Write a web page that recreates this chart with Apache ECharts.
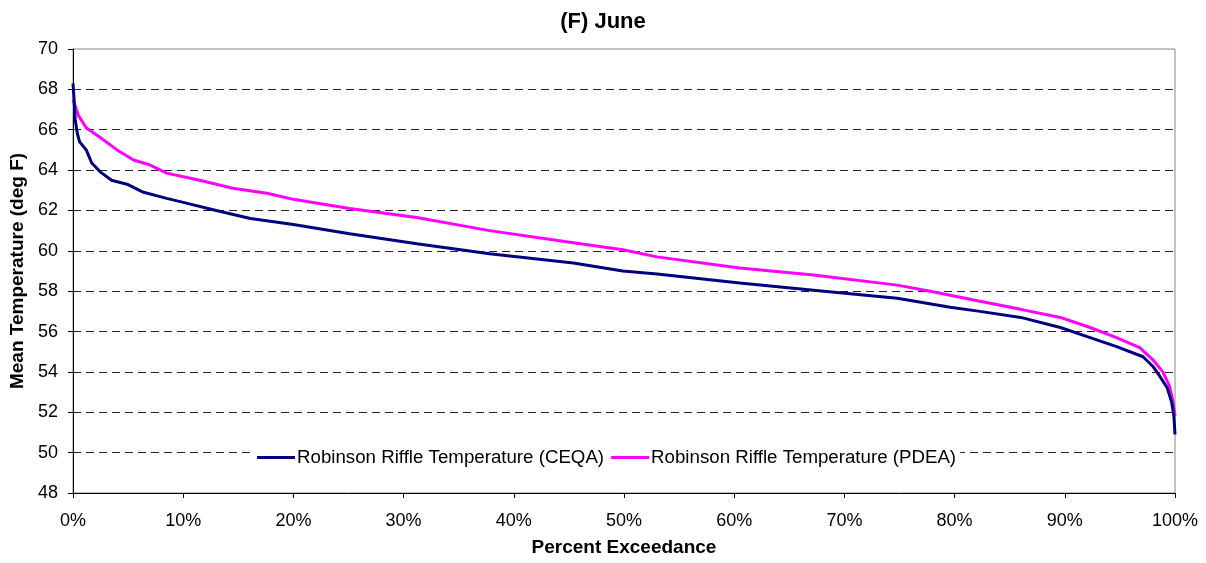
<!DOCTYPE html>
<html><head><meta charset="utf-8">
<script src="https://cdn.jsdelivr.net/npm/echarts@6/dist/echarts.min.js"></script>
<style>html,body{margin:0;padding:0;background:#fff}#c{width:1206px;height:563px}</style>
</head><body><div id="c"></div>
<script>
const titleText = '(F) June';
const xAxisName = 'Percent Exceedance';
const yAxisName = 'Mean Temperature (deg F)';
const seriesNames = ['Robinson Riffle Temperature (CEQA)', 'Robinson Riffle Temperature (PDEA)'];
const ceqaX = [0,0.1,0.2,0.4,0.6,1.2,1.7,2.5,3.5,4.9,6.4,8.5,10,13,16.1,20,25.1,31.2,37.8,45.4,49.9,53,60.5,67.2,74.8,79.6,82.3,86,89.6,92.3,94.7,97.1,98,98.6,99.3,99.7,99.9,100];
const ceqaY = [68.3,67.5,66.5,65.8,65.4,65.0,64.35,63.9,63.5,63.3,62.9,62.6,62.4,62.0,61.6,61.3,60.85,60.35,59.85,59.4,59.0,58.85,58.4,58.05,57.65,57.2,57.0,56.7,56.2,55.7,55.25,54.75,54.27,53.8,53.2,52.5,51.8,50.9];
const pdeaX = [0,0.5,1.2,2.5,4,5.5,7,8.5,11.5,14.5,17.6,20,25.1,31.2,37.8,45.4,49.9,53,60.5,67.2,74.8,77.8,82.3,86,89.6,92.3,94.7,96.8,98,98.9,99.5,99.8,100];
const pdeaY = [67.5,66.7,66.1,65.6,65.0,64.5,64.25,63.85,63.5,63.1,62.85,62.55,62.1,61.65,61.0,60.4,60.05,59.7,59.15,58.8,58.3,58.0,57.5,57.1,56.7,56.2,55.7,55.2,54.6,54.0,53.3,52.6,51.8];
const colors = ['#000080', '#ff00ff'];

const zip = (a, b) => a.map((v, i) => [v, b[i]]);
const font = 'Liberation Sans, Arial, sans-serif';
const chart = echarts.init(document.getElementById('c'), null, {renderer: 'canvas'});
const gridColors = ['transparent','#222','#222','#222','#222','#222','#222','#222','#222','#222','#222','transparent'];
chart.setOption({
  animation: false,
  backgroundColor: '#fff',
  title: {text: titleText, left: 'center', top: 11, padding: 0,
    textStyle: {fontFamily: font, fontSize: 22, fontWeight: 'bold', color: '#000'}},
  grid: {left: 73, right: 31, top: 49, bottom: 70, show: true, borderColor: '#888', borderWidth: 1, backgroundColor: '#fff'},
  legend: {
    data: seriesNames, left: 253, top: 445, orient: 'horizontal',
    backgroundColor: '#fff', padding: [3, 4], itemGap: 7,
    icon: 'rect', itemWidth: 38, itemHeight: 3,
    textStyle: {fontFamily: font, fontSize: 18.7, color: '#000', padding: [0, 0, 0, -3]}
  },
  xAxis: {
    type: 'value', min: 0, max: 100, interval: 10,
    name: xAxisName, nameLocation: 'middle', nameGap: 45,
    nameTextStyle: {fontFamily: font, fontSize: 19, fontWeight: 'bold', color: '#000'},
    axisLine: {show: true, lineStyle: {color: '#000', width: 1}},
    axisTick: {show: true, length: 5, lineStyle: {color: '#000'}},
    axisLabel: {fontFamily: font, fontSize: 18, color: '#000', margin: 19, formatter: '{value}%'},
    splitLine: {show: false}
  },
  yAxis: {
    type: 'value', min: 48, max: 70, interval: 2,
    name: yAxisName, nameLocation: 'middle', nameGap: 45, nameRotate: 90,
    nameTextStyle: {fontFamily: font, fontSize: 19, fontWeight: 'bold', color: '#000'},
    axisLine: {show: true, lineStyle: {color: '#000', width: 1}},
    axisTick: {show: true, length: 5, lineStyle: {color: '#000'}},
    axisLabel: {fontFamily: font, fontSize: 18, color: '#000', margin: 15},
    splitLine: {show: true, lineStyle: {color: gridColors, width: 1, type: [8, 5]}}
  },
  series: [
    {name: seriesNames[0], type: 'line', data: zip(ceqaX, ceqaY), showSymbol: false, symbol: 'none',
      lineStyle: {color: colors[0], width: 3}, itemStyle: {color: colors[0]}, z: 3},
    {name: seriesNames[1], type: 'line', data: zip(pdeaX, pdeaY), showSymbol: false, symbol: 'none',
      lineStyle: {color: colors[1], width: 3}, itemStyle: {color: colors[1]}, z: 2}
  ]
});
</script></body></html>
